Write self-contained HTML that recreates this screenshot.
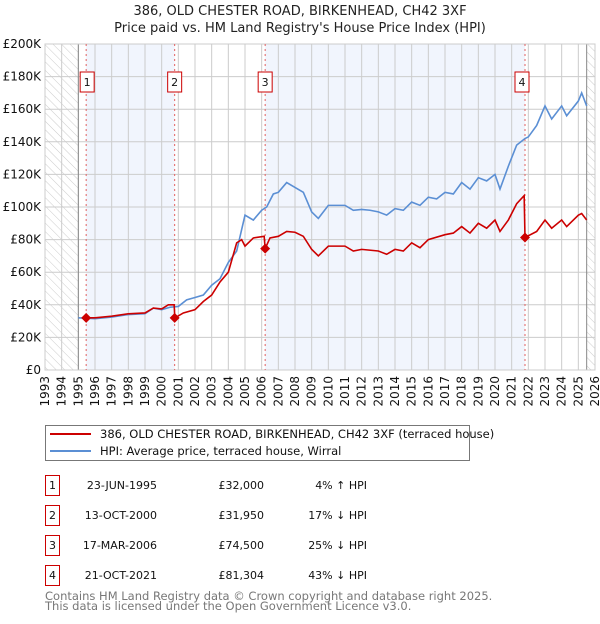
<!DOCTYPE html>
<html><head><meta charset="utf-8"><style>
body{margin:0;background:#fff;width:600px;height:620px;overflow:hidden;font-family:"DejaVu Sans","Liberation Sans",sans-serif}
svg text{font-family:"DejaVu Sans","Liberation Sans",sans-serif}
</style></head><body>
<svg id="chart" width="600" height="620" xmlns="http://www.w3.org/2000/svg">
<defs><pattern id="hatch" width="6" height="6" patternUnits="userSpaceOnUse" patternTransform="rotate(-45)"><line x1="0" y1="0" x2="0" y2="6" stroke="#ccc" stroke-width="1"/></pattern></defs>
<text x="300" y="15" text-anchor="middle" font-size="13" fill="#222">386, OLD CHESTER ROAD, BIRKENHEAD, CH42 3XF</text>
<text x="300" y="32" text-anchor="middle" font-size="13" fill="#222">Price paid vs. HM Land Registry's House Price Index (HPI)</text>
<g id="plot"></g>
<g>
<rect x="45.5" y="425.5" width="424" height="35" fill="#fff" stroke="#777"/>
<line x1="50" y1="434" x2="91" y2="434" stroke="#cc0000" stroke-width="2"/>
<text x="100" y="438" font-size="11.5" fill="#111">386, OLD CHESTER ROAD, BIRKENHEAD, CH42 3XF (terraced house)</text>
<line x1="50" y1="451" x2="91" y2="451" stroke="#5b8fd4" stroke-width="2"/>
<text x="100" y="455" font-size="11.5" fill="#111">HPI: Average price, terraced house, Wirral</text>
</g>
<g id="table"></g>
<text x="45" y="600" font-size="11.5" fill="#777">Contains HM Land Registry data © Crown copyright and database right 2025.</text>
<text x="45" y="610" font-size="11.5" fill="#777">This data is licensed under the Open Government Licence v3.0.</text>
</svg>
<script>
const hpiT=[1995,1996,1997,1998,1999,1999.5,2000,2000.5,2001,2001.5,2002,2002.5,2003,2003.5,2004,2004.5,2005,2005.5,2006,2006.3,2006.7,2007,2007.5,2008,2008.5,2009,2009.4,2010,2010.5,2011,2011.5,2012,2012.5,2013,2013.5,2014,2014.5,2015,2015.5,2016,2016.5,2017,2017.5,2018,2018.5,2019,2019.5,2020,2020.3,2020.8,2021.3,2021.8,2022,2022.5,2023,2023.4,2024,2024.3,2025,2025.2,2025.5];
const hpiV=[32,31.5,32.5,34,34.5,38,37,38.5,39,43,44.5,46,52,56,66,73,95,92,98,100,108,109,115,112,109,97,93,101,101,101,98,98.5,98,97,95,99,98,103,101,106,105,109,108,115,111,118,116,120,111,125,138,142,143,150,162,154,162,156,165,170,162];
const redT=[1995.47,1996,1997,1998,1999,1999.5,2000,2000.4,2000.75,2000.79,2001.3,2002,2002.5,2003,2003.5,2004,2004.5,2004.8,2005,2005.5,2006.15,2006.21,2006.5,2007,2007.5,2008,2008.5,2009,2009.4,2010,2011,2011.5,2012,2013,2013.5,2014,2014.5,2015,2015.5,2016,2017,2017.5,2018,2018.5,2019,2019.5,2020,2020.3,2020.8,2021.3,2021.75,2021.8,2022.5,2023,2023.4,2024,2024.3,2025,2025.2,2025.5];
const redV=[32,32,33,34.5,35,38,37.5,40,40,31.95,35,37,42,46,54,60,78,80,76,81,82,74.5,81,82,85,84.5,82,74,70,76,76,73,74,73,71,74,73,78,75,80,83,84,88,84,90,87,92,85,92,102,107,81.3,85,92,87,92,88,95,96,92];
const saleT=[1995.47,2000.78,2006.21,2021.8];
const saleV=[32,31.95,74.5,81.304];
const saleLabels=['1','2','3','4'];
const saleDates=['23-JUN-1995','13-OCT-2000','17-MAR-2006','21-OCT-2021'];
const salePrices=['£32,000','£31,950','£74,500','£81,304'];
const salePct=['4% \u2191 HPI','17% \u2193 HPI','25% \u2193 HPI','43% \u2193 HPI'];
const yTicks=[0,20,40,60,80,100,120,140,160,180,200];
const x0=45,x1=595,y0=370,y1=44;
const X=t=>x0+(t-1993)*(x1-x0)/33;
const Y=v=>y0-v*(y0-y1)/200;
const NS='http://www.w3.org/2000/svg';
const g=document.getElementById('plot');
function mk(tag,a,p){const e=document.createElementNS(NS,tag);for(const k in a)e.setAttribute(k,a[k]);(p||g).appendChild(e);return e;}
// shaded bands
const bands=[[saleT[0],saleT[1]],[saleT[2],saleT[3]]];
for(const b of bands){const r=mk('rect',{x:X(b[0]),y:y1,width:X(b[1])-X(b[0]),height:y0-y1,fill:'#eef3fd',opacity:0.8});

}
let h=mk('rect',{x:x0,y:y1,width:X(1995)-x0,height:y0-y1,fill:'url(#hatch)'});


h=mk('rect',{x:X(2025.5),y:y1,width:x1-X(2025.5),height:y0-y1,fill:'url(#hatch)'});


// grid
for(const v of yTicks){mk('line',{x1:x0,x2:x1,y1:Y(v),y2:Y(v),stroke:'#ccc'});
const t=mk('text',{x:x0-4,y:Y(v)+4,'text-anchor':'end','font-size':12,fill:'#111'});t.textContent='£'+(v?v+'K':'0');

}
for(let yr=1993;yr<=2026;yr++){mk('line',{x1:X(yr),x2:X(yr),y1:y1,y2:y0,stroke:'#ccc'});
const t=mk('text',{x:0,y:0,'text-anchor':'end','font-size':12,fill:'#111',transform:`translate(${X(yr)+4},${y0+6}) rotate(-90)`});t.textContent=yr;

}
mk('line',{x1:X(1995),x2:X(1995),y1:y1,y2:y0,stroke:'#888'});
mk('line',{x1:X(2025.5),x2:X(2025.5),y1:y1,y2:y0,stroke:'#888'});
mk('rect',{x:x0,y:y1,width:x1-x0,height:y0-y1,fill:'none',stroke:'#ccc'});
// sale lines and labels
saleT.forEach((t,i)=>{mk('line',{x1:X(t),x2:X(t),y1:y1,y2:y0,stroke:'#e06060','stroke-dasharray':'2,3'});
const bx=X(t)-7-(i==3?3:i==0?-1:0);
const r=mk('rect',{x:bx,y:72,width:14,height:20,fill:'#fff',stroke:'#cc0000'});


const tx=mk('text',{x:bx+7,y:86,'text-anchor':'middle','font-size':11,fill:'#111'});tx.textContent=saleLabels[i];});
// lines
const hp=mk('polyline',{points:hpiT.map((t,i)=>X(t)+','+Y(hpiV[i])).join(' '),fill:'none',stroke:'#5b8fd4','stroke-width':1.6});


const rp=mk('polyline',{points:redT.map((t,i)=>X(t)+','+Y(redV[i])).join(' '),fill:'none',stroke:'#cc0000','stroke-width':1.6});


saleT.forEach((t,i)=>{const cx=X(t),cy=Y(saleV[i]);
const d=mk('polygon',{points:`${cx},${cy-5} ${cx+5},${cy} ${cx},${cy+5} ${cx-5},${cy}`,fill:'#cc0000'});

});
// table
const tb=document.getElementById('table');
saleLabels.forEach((l,i)=>{const yy=475+i*30;
const r=mk('rect',{x:45.5,y:yy+0.5,width:14,height:20,fill:'#fff',stroke:'#cc0000'},tb);


const a=mk('text',{x:52.5,y:yy+14,'text-anchor':'middle','font-size':11,fill:'#111'},tb);a.textContent=l;
const b=mk('text',{x:157,y:yy+14,'text-anchor':'end','font-size':11,fill:'#111'},tb);b.textContent=saleDates[i];


const c=mk('text',{x:264,y:yy+14,'text-anchor':'end','font-size':11,fill:'#111'},tb);c.textContent=salePrices[i];


const d=mk('text',{x:367,y:yy+14,'text-anchor':'end','font-size':11,fill:'#111'},tb);d.textContent=salePct[i];

});
</script>
</body></html>
